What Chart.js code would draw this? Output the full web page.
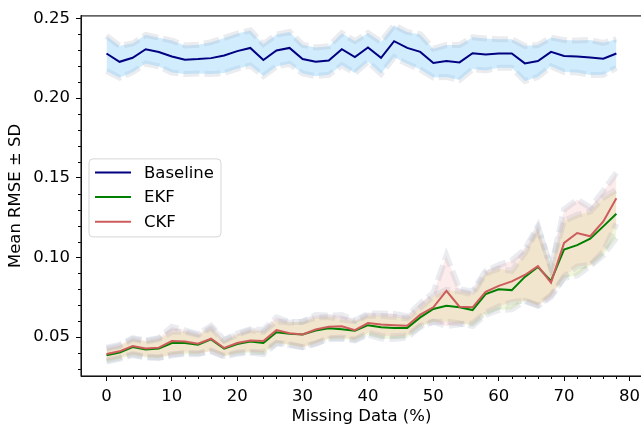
<!DOCTYPE html>
<html>
<head>
<meta charset="utf-8">
<script src="https://cdn.jsdelivr.net/npm/chart.js@4.4.1/dist/chart.umd.min.js"></script>
<style>
  html, body { margin: 0; padding: 0; overflow: hidden; background: #fff; }
  canvas { display: block; }
</style>
</head>
<body>
<canvas id="chart" width="646" height="427"></canvas>
<script>
// missing data percentages (x)
const missing = [0, 2, 4, 6, 8, 10, 12, 14, 16, 18, 20, 22, 24, 26, 28, 30, 32, 34, 36, 38,
  40, 42, 44, 46, 48, 50, 52, 54, 56, 58, 60, 62, 64, 66, 68, 70, 72, 74, 76, 78];

const baselineMean = [0.2280, 0.2228, 0.2253, 0.2307, 0.2289, 0.2261, 0.2241, 0.2245, 0.2251, 0.2268,
  0.2295, 0.2315, 0.2239, 0.2299, 0.2315, 0.2245, 0.2228, 0.2236, 0.2307, 0.2258,
  0.2318, 0.2253, 0.2357, 0.2315, 0.2290, 0.2220, 0.2233, 0.2224, 0.2282, 0.2274,
  0.2280, 0.2280, 0.2218, 0.2233, 0.2290, 0.2264, 0.2261, 0.2255, 0.2247, 0.2280];
const baselineSd = [0.011, 0.010, 0.009, 0.009, 0.009, 0.010, 0.009, 0.009, 0.010, 0.011,
  0.011, 0.011, 0.010, 0.010, 0.010, 0.009, 0.009, 0.009, 0.010, 0.010,
  0.009, 0.010, 0.010, 0.010, 0.011, 0.009, 0.010, 0.011, 0.010, 0.010,
  0.009, 0.009, 0.011, 0.010, 0.009, 0.010, 0.010, 0.011, 0.010, 0.009];

const ekfMean = [0.0386, 0.0403, 0.0438, 0.0422, 0.0428, 0.0463, 0.0463, 0.0453, 0.0486, 0.0428,
  0.0456, 0.0473, 0.0463, 0.0531, 0.0521, 0.0517, 0.0542, 0.0556, 0.0550, 0.0540,
  0.0575, 0.0562, 0.0558, 0.0558, 0.0624, 0.0677, 0.0697, 0.0687, 0.0670, 0.0770,
  0.0800, 0.0795, 0.0878, 0.0940, 0.0853, 0.1050, 0.1077, 0.1118, 0.1195, 0.1274];
const ekfSd = [0.004, 0.004, 0.005, 0.005, 0.006, 0.007, 0.007, 0.006, 0.007, 0.005,
  0.006, 0.007, 0.007, 0.007, 0.007, 0.008, 0.008, 0.007, 0.006, 0.006,
  0.006, 0.007, 0.007, 0.006, 0.006, 0.008, 0.010, 0.010, 0.010, 0.013,
  0.013, 0.012, 0.015, 0.024, 0.009, 0.018, 0.019, 0.017, 0.018, 0.015];

const ckfMean = [0.0394, 0.0411, 0.0444, 0.0428, 0.0434, 0.0475, 0.0473, 0.0459, 0.0490, 0.0432,
  0.0463, 0.0479, 0.0475, 0.0544, 0.0525, 0.0517, 0.0548, 0.0565, 0.0568, 0.0544,
  0.0588, 0.0579, 0.0575, 0.0571, 0.0641, 0.0687, 0.0790, 0.0691, 0.0687, 0.0784,
  0.0822, 0.0850, 0.0890, 0.0946, 0.0842, 0.1091, 0.1153, 0.1133, 0.1226, 0.1371];
const ckfSd = [0.004, 0.004, 0.005, 0.005, 0.006, 0.009, 0.007, 0.006, 0.008, 0.005,
  0.006, 0.007, 0.007, 0.008, 0.007, 0.008, 0.009, 0.007, 0.007, 0.006,
  0.006, 0.007, 0.007, 0.006, 0.007, 0.009, 0.022, 0.011, 0.010, 0.013,
  0.013, 0.013, 0.016, 0.025, 0.009, 0.021, 0.021, 0.018, 0.019, 0.016];

const xTicks = [0, 10, 20, 30, 40, 50, 60, 70, 80];
const yTicks = [0.05, 0.10, 0.15, 0.20, 0.25];

const FONT = 'DejaVu Sans';
const EDGE = 'rgba(150,162,178,0.2)';

function points(mean, sd, sign) {
  return missing.map((x, i) => ({ x: x, y: mean[i] + sign * sd[i] }));
}

function band(name, mean, sd, fillColor, order) {
  const edge = {
    borderColor: EDGE, borderWidth: 6, borderDash: [16, 5],
    pointRadius: 0, tension: 0, order: order
  };
  return [
    Object.assign({ label: name + ' upper', data: points(mean, sd, 1), fill: '+1', backgroundColor: fillColor }, edge),
    Object.assign({ label: name + ' lower', data: points(mean, sd, -1), fill: false }, edge)
  ];
}

function meanLine(name, mean, color, order) {
  return {
    label: name, data: points(mean, mean.map(() => 0), 0), inLegend: true,
    borderColor: color, backgroundColor: color, borderWidth: 2,
    pointRadius: 0, tension: 0, fill: false, order: order
  };
}

const legendBox = {
  id: 'legendBox',
  afterDraw(chart) {
    const ctx = chart.ctx;
    const a = chart.chartArea;
    const items = chart.data.datasets.filter(d => d.inLegend);
    const x = a.left + 8, y = a.top + 143, w = 132, h = 78;
    ctx.save();
    ctx.beginPath();
    ctx.roundRect(x, y, w, h, 4);
    ctx.fillStyle = 'rgba(255,255,255,0.8)';
    ctx.fill();
    ctx.strokeStyle = '#d6d6d6';
    ctx.lineWidth = 1;
    ctx.stroke();
    ctx.font = '16.5px "' + FONT + '"';
    ctx.textBaseline = 'middle';
    items.forEach((d, i) => {
      const ry = y + 13.5 + i * 24.7;
      ctx.strokeStyle = d.borderColor;
      ctx.lineWidth = 2;
      ctx.beginPath();
      ctx.moveTo(x + 6, ry);
      ctx.lineTo(x + 42, ry);
      ctx.stroke();
      ctx.fillStyle = '#000';
      ctx.fillText(d.label, x + 55, ry + 1);
    });
    ctx.restore();
  }
};

// spines all round plus minor ticks
const frameTicks = {
  id: 'frameTicks',
  afterDraw(chart) {
    const ctx = chart.ctx;
    const a = chart.chartArea;
    const sx = chart.scales.x, sy = chart.scales.y;
    ctx.save();
    ctx.strokeStyle = '#000';
    ctx.lineWidth = 1;
    ctx.beginPath();
    for (let v = 2; v < 80; v += 2) {
      if (v % 10 === 0) continue;
      const px = Math.round(sx.getPixelForValue(v)) + 0.5;
      ctx.moveTo(px, a.bottom);
      ctx.lineTo(px, a.bottom + 3);
    }
    for (let k = 3; k <= 25; k++) {
      if (k % 5 === 0) continue;
      const py = Math.round(sy.getPixelForValue(k / 100)) + 0.5;
      ctx.moveTo(a.left, py);
      ctx.lineTo(a.left - 3, py);
    }
    ctx.stroke();
    ctx.lineWidth = 1.2;
    ctx.strokeStyle = '#222';
    ctx.strokeRect(a.left, a.top, a.right - a.left, a.bottom - a.top);
    ctx.restore();
  }
};

new Chart(document.getElementById('chart'), {
  type: 'line',
  data: {
    datasets: [
      meanLine('Baseline', baselineMean, '#000080', 3),
      meanLine('EKF', ekfMean, '#008000', 2),
      meanLine('CKF', ckfMean, '#cd5c5c', 1),
      ...band('Baseline', baselineMean, baselineSd, 'rgba(135,206,250,0.38)', 12),
      ...band('EKF', ekfMean, ekfSd, 'rgba(170,210,50,0.17)', 11),
      ...band('CKF', ckfMean, ckfSd, 'rgba(240,128,128,0.15)', 10)
    ]
  },
  options: {
    responsive: false,
    animation: false,
    layout: { padding: { top: 12, right: 2.5, left: 0, bottom: 0 } },
    plugins: {
      legend: { display: false },
      tooltip: { enabled: false }
    },
    scales: {
      x: {
        type: 'linear', min: -3.9, max: 81.9,
        afterBuildTicks: s => { s.ticks = xTicks.map(v => ({ value: v })); },
        afterFit: s => { s.height = 51; },
        grid: { drawOnChartArea: false, drawTicks: true, tickLength: 5, color: '#000' },
        border: { display: true, color: '#000' },
        ticks: {
          color: '#000', padding: 6, maxRotation: 0, autoSkip: false,
          font: { family: FONT, size: 16.5 },
          callback: v => String(v)
        },
        title: {
          display: true, text: 'Missing Data (%)', color: '#000',
          font: { family: FONT, size: 16.5 }, padding: { top: 2, bottom: 0 }
        }
      },
      y: {
        type: 'linear', min: 0.0256, max: 0.2516,
        afterBuildTicks: s => { s.ticks = yTicks.map(v => ({ value: v })); },
        afterFit: s => { s.width = 81; },
        grid: { drawOnChartArea: false, drawTicks: true, tickLength: 5, color: '#000' },
        border: { display: true, color: '#000' },
        ticks: {
          color: '#000', padding: 6, autoSkip: false,
          font: { family: FONT, size: 16.5 },
          callback: v => v.toFixed(2)
        },
        title: {
          display: true, text: 'Mean RMSE ± SD', color: '#000',
          font: { family: FONT, size: 16.5 }, padding: { top: 6, bottom: 4 }
        }
      }
    }
  },
  plugins: [legendBox, frameTicks]
});
</script>
</body>
</html>
